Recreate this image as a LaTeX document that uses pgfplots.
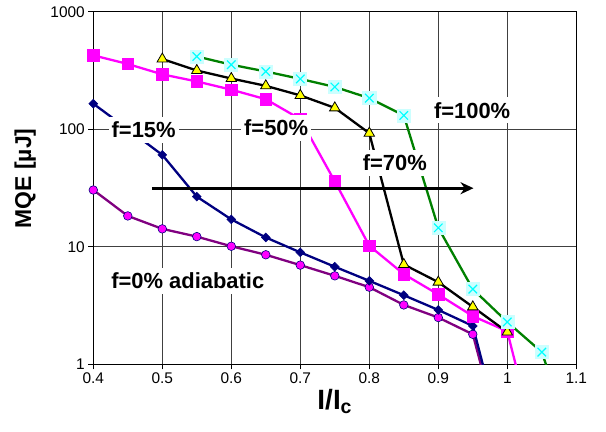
\documentclass[border=0pt]{standalone}
\usepackage{pgfplots}
\pgfplotsset{compat=1.18}
\usepackage{fontspec}
\setmainfont{Liberation Sans}
\usetikzlibrary{arrows.meta}
\definecolor{navyc}{RGB}{0,0,128}
\definecolor{purplec}{RGB}{128,0,128}
\definecolor{greenc}{RGB}{0,128,0}
\definecolor{lcyan}{RGB}{204,255,255}
\definecolor{magc}{RGB}{255,0,255}
\definecolor{cyanc}{RGB}{0,255,255}
\definecolor{yelc}{RGB}{255,255,0}
\begin{document}
\begin{tikzpicture}
\path[use as bounding box] (-93.3bp,-67.7bp) rectangle (512.7bp,364.3bp);
\begin{axis}[
  at={(0,0)}, anchor=south west,
  scale only axis, width=483bp, height=352.6bp,
  xmin=0.4, xmax=1.1, ymin=1, ymax=1000, ymode=log,
  xtick={0.4,0.5,0.6,0.7,0.8,0.9,1,1.1},
  xticklabels={0.4,0.5,0.6,0.7,0.8,0.9,1,1.1},
  ytick={1,10,100,1000}, yticklabels={1,10,100,1000},
  yminorticks=false,
  tick align=outside, tick pos=left,
  major tick length=5bp,
  every tick/.style={black, line width=1bp},
  grid=major,
  major grid style={black!75, line width=1bp},
  axis line style={black, line width=1.2bp},
  tick label style={font=\fontsize{15.5}{18}\selectfont},
  xlabel={I/I\textsubscript{c}},
  ylabel={MQE [µJ]},
  xlabel style={font=\fontsize{28}{32}\selectfont\bfseries, at={(axis description cs:0.5,-0.106)}, anchor=center},
  ylabel style={font=\fontsize{23}{27}\selectfont\bfseries, at={(axis description cs:-0.141,0.527)}, anchor=center},
]
% f=0% adiabatic
\addplot[purplec, line width=2.3bp, mark=*, mark size=4.3bp,
  mark options={fill=magc, draw=navyc, line width=0.6bp}] coordinates {
(0.4,30.4) (0.45,18.3) (0.5,14.2) (0.55,12.2) (0.6,10.1) (0.65,8.55)
(0.7,6.98) (0.75,5.66) (0.8,4.53) (0.85,3.2) (0.9,2.5) (0.95,1.80) (0.97,0.65)};
% f=15%
\addplot[navyc, line width=2.3bp, mark=square*, mark size=3.1bp,
  mark options={fill=navyc, draw=navyc, line width=0.6bp, rotate=45}] coordinates {
(0.4,165) (0.45,100) (0.5,60.5) (0.55,26.7) (0.6,17.1) (0.65,12.0)
(0.7,8.96) (0.75,6.76) (0.8,5.13) (0.85,3.87) (0.9,2.90) (0.95,2.12) (0.97,0.75)};
% f=50%
\addplot[magc, line width=2.3bp, mark=square*, mark size=5.7bp,
  mark options={fill=magc, draw=magc, line width=0.6bp}] coordinates {
(0.4,425) (0.45,359) (0.5,293) (0.55,255) (0.6,217) (0.65,180)
(0.7,122) (0.75,36) (0.8,10.2) (0.85,5.85) (0.9,3.93) (0.95,2.57) (1.0,1.91) (1.02,0.65)};
% f=70%
\addplot[black, line width=2.3bp, mark=triangle*, mark size=6bp,
  mark options={fill=yelc, draw=black, line width=0.8bp}] coordinates {
(0.5,396) (0.55,316) (0.6,270) (0.65,234) (0.7,194) (0.75,152)
(0.8,92.5) (0.85,7.07) (0.9,5.0) (0.95,3.08) (1.0,1.88)};
% f=100%
\addplot[greenc, line width=2.3bp, mark=square*, mark size=6.5bp,
  mark options={fill=lcyan, draw=lcyan, line width=0.6bp}] coordinates {
(0.55,416) (0.6,354) (0.65,310) (0.7,268) (0.75,229) (0.8,184)
(0.85,131) (0.9,14.5) (0.95,4.36) (1.0,2.29) (1.05,1.27) (1.06,0.85)};
\addplot[only marks, mark=x, mark size=6bp,
  mark options={draw=cyanc, line width=1.2bp}] coordinates {
(0.55,416) (0.6,354) (0.65,310) (0.7,268) (0.75,229) (0.8,184)
(0.85,131) (0.9,14.5) (0.95,4.36) (1.0,2.29) (1.05,1.27)};
\coordinate (L15) at (axis cs:0.473,98.6);
\coordinate (L50) at (axis cs:0.665,102.6);
\coordinate (L100) at (axis cs:0.949,144.5);
\coordinate (L70) at (axis cs:0.837,51.7);
\coordinate (L0) at (axis cs:0.537,5.1);
\coordinate (A1) at (axis cs:0.485,31.5);
\coordinate (A2) at (axis cs:0.951,31.5);
\end{axis}
\tikzset{lbl/.style={fill=white, inner xsep=3bp, inner ysep=5bp, font=\fontsize{22}{26}\selectfont\bfseries}}
\node[lbl] at (L15) {f=15\%};
\node[lbl] at (L50) {f=50\%};
\node[lbl, inner xsep=8bp] at (L100) {f=100\%};
\node[lbl, inner xsep=6bp] at (L70) {f=70\%};
\node[lbl] at (L0) {f=0\% adiabatic};
\draw[line width=3bp, -{Stealth[length=13bp,width=12bp]}] (A1) -- (A2);
\end{tikzpicture}
\end{document}
